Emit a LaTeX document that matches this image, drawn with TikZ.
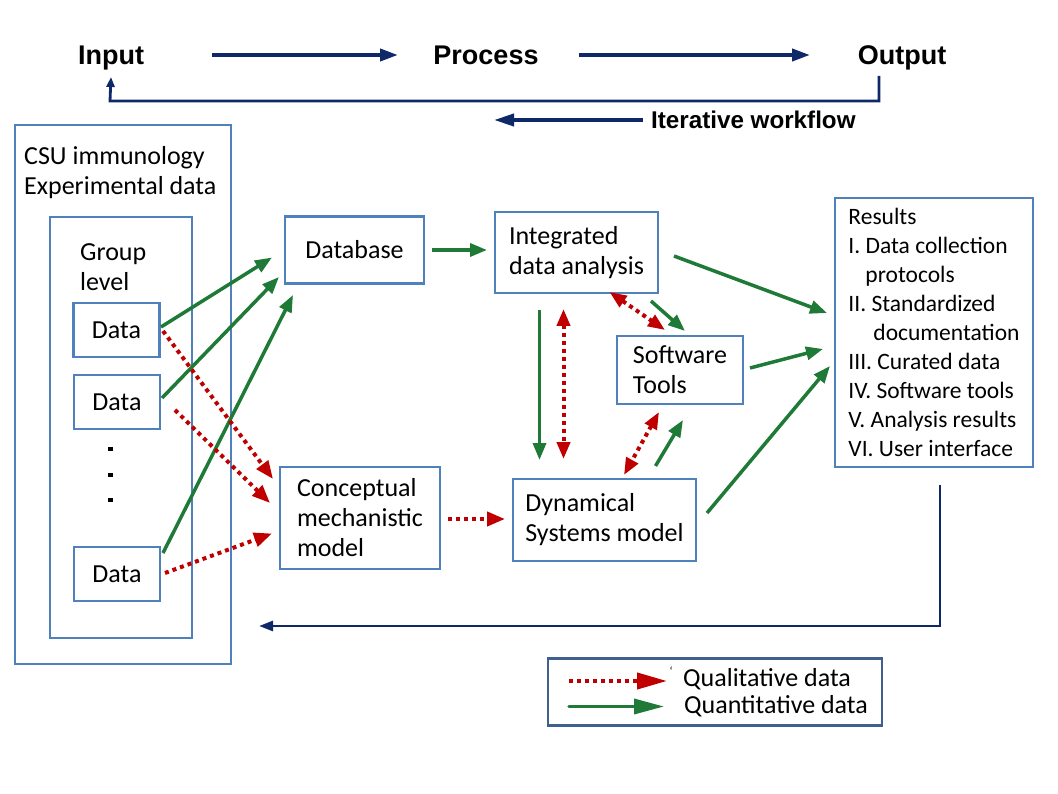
\documentclass[tikz,border=0pt]{standalone}
\usepackage{fontspec}
\setmainfont{Carlito}
\newfontfamily\headfont{Liberation Sans}
\usetikzlibrary{arrows.meta,calc}
\definecolor{boxblue}{HTML}{4F81BD}
\definecolor{navy}{HTML}{0F2868}
\definecolor{qgreen}{HTML}{1F7A38}
\definecolor{qred}{HTML}{C00000}
\definecolor{legblue}{HTML}{3F5F8F}
\tikzset{
  x=1pt, y=-1pt,
  boxnode/.style={draw=boxblue, line width=2.8pt, align=left, inner sep=0pt,
    font=\fontsize{26}{30}\selectfont},
  txt/.style={inner sep=0pt, align=left, font=\fontsize{26}{30}\selectfont},
  headtxt/.style={inner sep=0pt, anchor=base, font=\headfont\bfseries\fontsize{27}{30}\selectfont},
  navyarrow/.style={draw=navy, line width=3.8pt, -{Triangle[length=18pt,width=12pt]}},
  navyline/.style={draw=navy, line width=2.8pt},
  quant/.style={draw=qgreen, line width=3.5pt, -{Triangle[length=17pt,width=13pt]}},
  qual/.style={draw=qred, line width=4pt, dash pattern=on 4pt off 4pt,
    -{Triangle[length=18pt,width=14pt]}},
  qualboth/.style={draw=qred, line width=4pt, dash pattern=on 4pt off 4pt,
    {Triangle[length=17pt,width=13pt]}-{Triangle[length=17pt,width=13pt]}},
}
\begin{document}
\begin{tikzpicture}
\useasboundingbox (0,0) rectangle (1058,794);
\fill[white] (0,0) rectangle (1058,794);

% ---------- top workflow ----------
\node[headtxt] (inp) at (111,65) {Input};
\node[headtxt] (proc) at (486,65) {Process};
\node[headtxt] (outp) at (902,65) {Output};
\coordinate (a1s) at (212,55);
\coordinate (a1e) at (398,55);
\coordinate (a2s) at (579,55);
\coordinate (a2e) at (810,55);
\draw[navyarrow] (a1s) -- (a1e);
\draw[navyarrow] (a2s) -- (a2e);
\coordinate (fbs) at (879,76);
\coordinate (fbe) at (111,77);
\draw[navyline, -{Triangle[length=10pt,width=8pt]}] (fbs) |- (110,101) -- (fbe);
\coordinate (its) at (643,120);
\coordinate (ite) at (494,120);
\draw[navyarrow, -{Triangle[length=20pt,width=12pt]}] (its) -- (ite);
\node[inner sep=0pt, anchor=west, font=\headfont\bfseries\fontsize{24.2}{28}\selectfont] (iter) at (651,120) {Iterative workflow};

% ---------- left: experimental data ----------
\node[draw=boxblue, line width=2.8pt, minimum width=216, minimum height=539, inner sep=0pt] (csu) at (123,394.5) {};
\node[txt, anchor=west] (csut) at (24,173) {CSU immunology\\Experimental data};
\node[draw=boxblue, line width=2.8pt, minimum width=142, minimum height=421, inner sep=0pt] (grp) at (121,427.5) {};
\node[txt, anchor=west] (grpt) at (80,267) {Group\\level};
\node[boxnode, minimum width=86, minimum height=54] (d1) at (116.5,330) {Data};
\node[boxnode, minimum width=86, minimum height=54] (d2) at (117,402) {Data};
\node[boxnode, minimum width=86, minimum height=54] (d3) at (117,574) {Data};
\foreach \yy in {449,475,500} \fill (108,\yy-2.2) rectangle (112.5,\yy+2.2);

% ---------- middle boxes ----------
\node[boxnode, minimum width=139, minimum height=67] (db) at (354.5,250) {Database};
\node[boxnode, minimum width=163, minimum height=81] (ida) at (576.5,252.5) {Integrated\\data analysis};
\node[boxnode, minimum width=126, minimum height=68] (sw) at (680,370) {Software\\Tools};
\node[boxnode, minimum width=160, minimum height=102] (cmm) at (360,518) {Conceptual\\mechanistic\\model};
\node[boxnode, minimum width=183, minimum height=82] (dsm) at (604.5,520) {Dynamical\\Systems model};
\node[boxnode, minimum width=198, minimum height=269, font=\fontsize{23.5}{28.9}\selectfont] (res) at (934,332.5)
  {Results\\I. Data collection\\\hspace*{17pt}protocols\\II. Standardized\\\hspace*{25pt}documentation\\III. Curated data\\IV. Software tools\\V. Analysis results\\VI. User interface};

% ---------- green (quantitative) arrows ----------
\coordinate (g1s) at (161,327);   \coordinate (g1e) at (272,257.5);
\coordinate (g2s) at (162,398);   \coordinate (g2e) at (279,277);
\coordinate (g3s) at (163,553);   \coordinate (g3e) at (293,295);
\coordinate (g4s) at (432,250);   \coordinate (g4e) at (487,250);
\coordinate (g5s) at (674,256);   \coordinate (g5e) at (827,313);
\coordinate (g6s) at (651,301);   \coordinate (g6e) at (685,331);
\coordinate (g7s) at (750,368);   \coordinate (g7e) at (823,349);
\coordinate (g8s) at (655.5,466); \coordinate (g8e) at (683,420);
\coordinate (g9s) at (707,513);   \coordinate (g9e) at (830,366);
\coordinate (g10s) at (539.5,310); \coordinate (g10e) at (539.5,460);
\foreach \i in {1,...,10} \draw[quant] (g\i s) -- (g\i e);

% ---------- red (qualitative) arrows ----------
\coordinate (r1s) at (163,331);   \coordinate (r1e) at (273,479);
\coordinate (r2s) at (175,410);   \coordinate (r2e) at (270,503);
\coordinate (r3s) at (165,573);   \coordinate (r3e) at (272,533.5);
\coordinate (r4s) at (448,519);   \coordinate (r4e) at (505,519);
\foreach \i in {1,...,4} \draw[qual] (r\i s) -- (r\i e);
\coordinate (r5s) at (563.5,309); \coordinate (r5e) at (563.5,459);
\coordinate (r6s) at (609.5,292); \coordinate (r6e) at (665,330);
\coordinate (r7s) at (659,412);   \coordinate (r7e) at (624,475);
\draw[qualboth] (r5s) -- (r5e);
\draw[qualboth] (r6s) -- (r6e);
\draw[qualboth] (r7s) -- (r7e);

% ---------- iterative return ----------
\coordinate (bks) at (940,485);
\coordinate (bke) at (259,626);
\draw[navyline, -{Triangle[length=14pt,width=10pt]}] (bks) |- (bke);

% ---------- legend ----------
\node[draw=legblue, line width=2.8pt, minimum width=334, minimum height=67, inner sep=0pt] (leg) at (715,692) {};
\coordinate (lqs) at (569,681); \coordinate (lqe) at (667,681);
\draw[qual, -{Triangle[length=30pt,width=16pt]}] (lqs) -- (lqe);
\node[inner sep=0pt, font=\fontsize{12}{12}\selectfont] (tick) at (671,671) {`};
\node[txt, anchor=west] (lqt) at (683,679) {Qualitative data};
\coordinate (lns) at (569,706.5); \coordinate (lne) at (664,706.5);
\draw[quant, line cap=round, -{Triangle[length=30pt,width=15pt]}] (lns) -- (lne);
\node[txt, anchor=west] (lnt) at (684,706) {Quantitative data};
\end{tikzpicture}
\end{document}
